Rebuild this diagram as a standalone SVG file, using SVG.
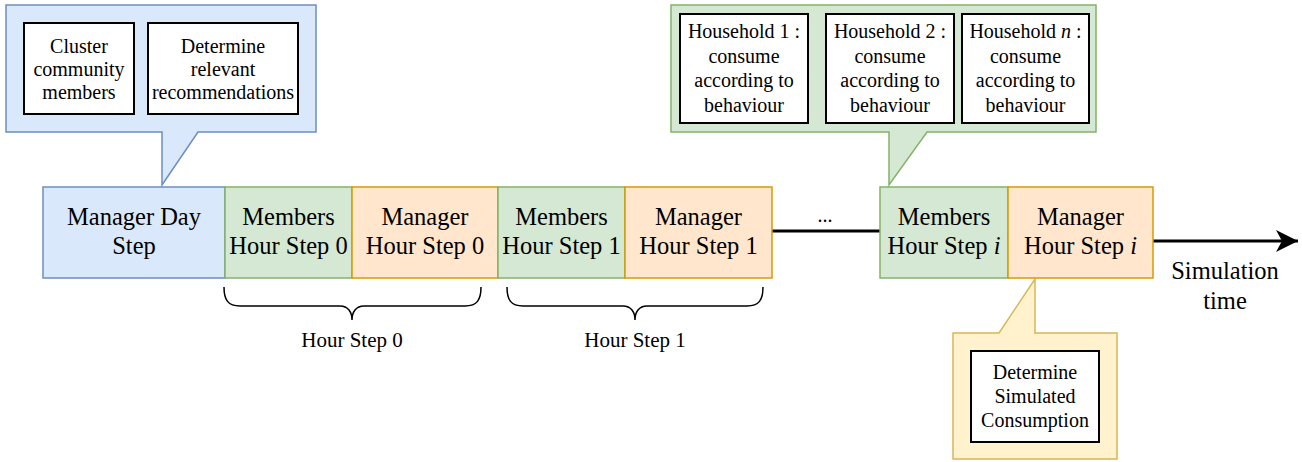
<svg xmlns="http://www.w3.org/2000/svg" width="1302" height="462" viewBox="0 0 1302 462">
  <style>
    text { fill: #000; text-anchor: middle; }
    .big { font-size: 24.5px; }
    .small { font-size: 20px; }
    .lbl { font-size: 21px; }
    .blue { fill: #dae8fc; stroke: #6c8ebf; stroke-width: 1.5; }
    .green { fill: #d5e8d4; stroke: #82b366; stroke-width: 1.5; }
    .orange { fill: #ffe6cc; stroke: #d79b00; stroke-width: 1.5; }
    .yellow { fill: #fff2cc; stroke: #d6b656; stroke-width: 1.5; }
    .inner { fill: #fff; stroke: #000; stroke-width: 2; }
    .brace { fill: none; stroke: #000; stroke-width: 1.5; }
    .conn { fill: none; stroke: #000; stroke-width: 3; }
  </style>
  <defs>
    <marker id="arrow" markerUnits="userSpaceOnUse" markerWidth="24" markerHeight="24" refX="22" refY="11" orient="auto">
      <path d="M0,0 L22,11 L0,22 L6,11 Z" fill="#000"/>
    </marker>
  </defs>

  <g id="connectors">
    <line class="conn" x1="772" y1="231" x2="880" y2="231"/>
    <line class="conn" x1="1153" y1="241" x2="1298" y2="241" marker-end="url(#arrow)"/>
    <text font-family="Liberation Serif, serif" class="small" x="825" y="222">...</text>
    <text font-family="Liberation Serif, serif" class="big" x="1225" y="279">Simulation</text>
    <text font-family="Liberation Serif, serif" class="big" x="1225" y="309">time</text>
  </g>

  <g id="callout-day">
    <path class="blue" d="M6,5 H316 V132 H198 L162,185 V132 H6 Z"/>
    <g id="cluster">
      <rect class="inner" x="24" y="23" width="110" height="91"/>
      <text font-family="Liberation Serif, serif" class="small" x="79" y="53">Cluster</text>
      <text font-family="Liberation Serif, serif" class="small" x="79" y="76">community</text>
      <text font-family="Liberation Serif, serif" class="small" x="79" y="99">members</text>
    </g>
    <g id="recommend">
      <rect class="inner" x="148" y="23" width="150" height="91"/>
      <text font-family="Liberation Serif, serif" class="small" x="223" y="53">Determine</text>
      <text font-family="Liberation Serif, serif" class="small" x="223" y="76">relevant</text>
      <text font-family="Liberation Serif, serif" class="small" x="223" y="99">recommendations</text>
    </g>
  </g>

  <g id="callout-members">
    <path class="green" d="M671,5 H1096 V132 H927 L889,185 V132 H671 Z"/>
    <g id="household1">
      <rect class="inner" x="680" y="14" width="128" height="109"/>
      <text font-family="Liberation Serif, serif" class="small" x="744" y="38">Household 1 :</text>
      <text font-family="Liberation Serif, serif" class="small" x="744" y="63">consume</text>
      <text font-family="Liberation Serif, serif" class="small" x="744" y="87">according to</text>
      <text font-family="Liberation Serif, serif" class="small" x="744" y="112">behaviour</text>
    </g>
    <g id="household2">
      <rect class="inner" x="826" y="14" width="128" height="109"/>
      <text font-family="Liberation Serif, serif" class="small" x="890" y="38">Household 2 :</text>
      <text font-family="Liberation Serif, serif" class="small" x="890" y="63">consume</text>
      <text font-family="Liberation Serif, serif" class="small" x="890" y="87">according to</text>
      <text font-family="Liberation Serif, serif" class="small" x="890" y="112">behaviour</text>
    </g>
    <g id="householdn">
      <rect class="inner" x="962" y="14" width="127" height="109"/>
      <text font-family="Liberation Serif, serif" class="small" x="1025.5" y="38">Household <tspan font-style="italic">n</tspan> :</text>
      <text font-family="Liberation Serif, serif" class="small" x="1025.5" y="63">consume</text>
      <text font-family="Liberation Serif, serif" class="small" x="1025.5" y="87">according to</text>
      <text font-family="Liberation Serif, serif" class="small" x="1025.5" y="112">behaviour</text>
    </g>
  </g>

  <g id="callout-manager">
    <path class="yellow" d="M953,333 H999 L1035,279 V333 H1117 V459 H953 Z"/>
    <g id="simulated">
      <rect class="inner" x="971" y="351" width="128" height="91"/>
      <text font-family="Liberation Serif, serif" class="small" x="1035" y="379">Determine</text>
      <text font-family="Liberation Serif, serif" class="small" x="1035" y="403">Simulated</text>
      <text font-family="Liberation Serif, serif" class="small" x="1035" y="427">Consumption</text>
    </g>
  </g>

  <g id="manager-day">
    <rect class="blue" x="43" y="187" width="182" height="91"/>
    <text font-family="Liberation Serif, serif" class="big" x="134" y="225">Manager Day</text>
    <text font-family="Liberation Serif, serif" class="big" x="134" y="254">Step</text>
  </g>
  <g id="members-0">
    <rect class="green" x="225" y="187" width="127" height="91"/>
    <text font-family="Liberation Serif, serif" class="big" x="288.5" y="225">Members</text>
    <text font-family="Liberation Serif, serif" class="big" x="288.5" y="254">Hour Step 0</text>
  </g>
  <g id="manager-0">
    <rect class="orange" x="352" y="187" width="146" height="91"/>
    <text font-family="Liberation Serif, serif" class="big" x="425" y="225">Manager</text>
    <text font-family="Liberation Serif, serif" class="big" x="425" y="254">Hour Step 0</text>
  </g>
  <g id="members-1">
    <rect class="green" x="498" y="187" width="127" height="91"/>
    <text font-family="Liberation Serif, serif" class="big" x="561.5" y="225">Members</text>
    <text font-family="Liberation Serif, serif" class="big" x="561.5" y="254">Hour Step 1</text>
  </g>
  <g id="manager-1">
    <rect class="orange" x="625" y="187" width="147" height="91"/>
    <text font-family="Liberation Serif, serif" class="big" x="698.5" y="225">Manager</text>
    <text font-family="Liberation Serif, serif" class="big" x="698.5" y="254">Hour Step 1</text>
  </g>
  <g id="members-i">
    <rect class="green" x="880" y="187" width="128" height="91"/>
    <text font-family="Liberation Serif, serif" class="big" x="944" y="225">Members</text>
    <text font-family="Liberation Serif, serif" class="big" x="944" y="254">Hour Step <tspan font-style="italic">i</tspan></text>
  </g>
  <g id="manager-i">
    <rect class="orange" x="1008" y="187" width="145" height="91"/>
    <text font-family="Liberation Serif, serif" class="big" x="1080.5" y="225">Manager</text>
    <text font-family="Liberation Serif, serif" class="big" x="1080.5" y="254">Hour Step <tspan font-style="italic">i</tspan></text>
  </g>

  <g id="brace-0">
    <path class="brace" d="M224,287 C224,300 228,306 240,306 H340 C348,306 352,312 352,320 C352,312 356,306 364,306 H465 C477,306 481,300 481,287"/>
    <text font-family="Liberation Serif, serif" class="lbl" x="352" y="347">Hour Step 0</text>
  </g>
  <g id="brace-1">
    <path class="brace" d="M507,287 C507,300 511,306 523,306 H623 C631,306 635,312 635,320 C635,312 639,306 647,306 H747 C759,306 763,300 763,287"/>
    <text font-family="Liberation Serif, serif" class="lbl" x="635" y="347">Hour Step 1</text>
  </g>
</svg>
